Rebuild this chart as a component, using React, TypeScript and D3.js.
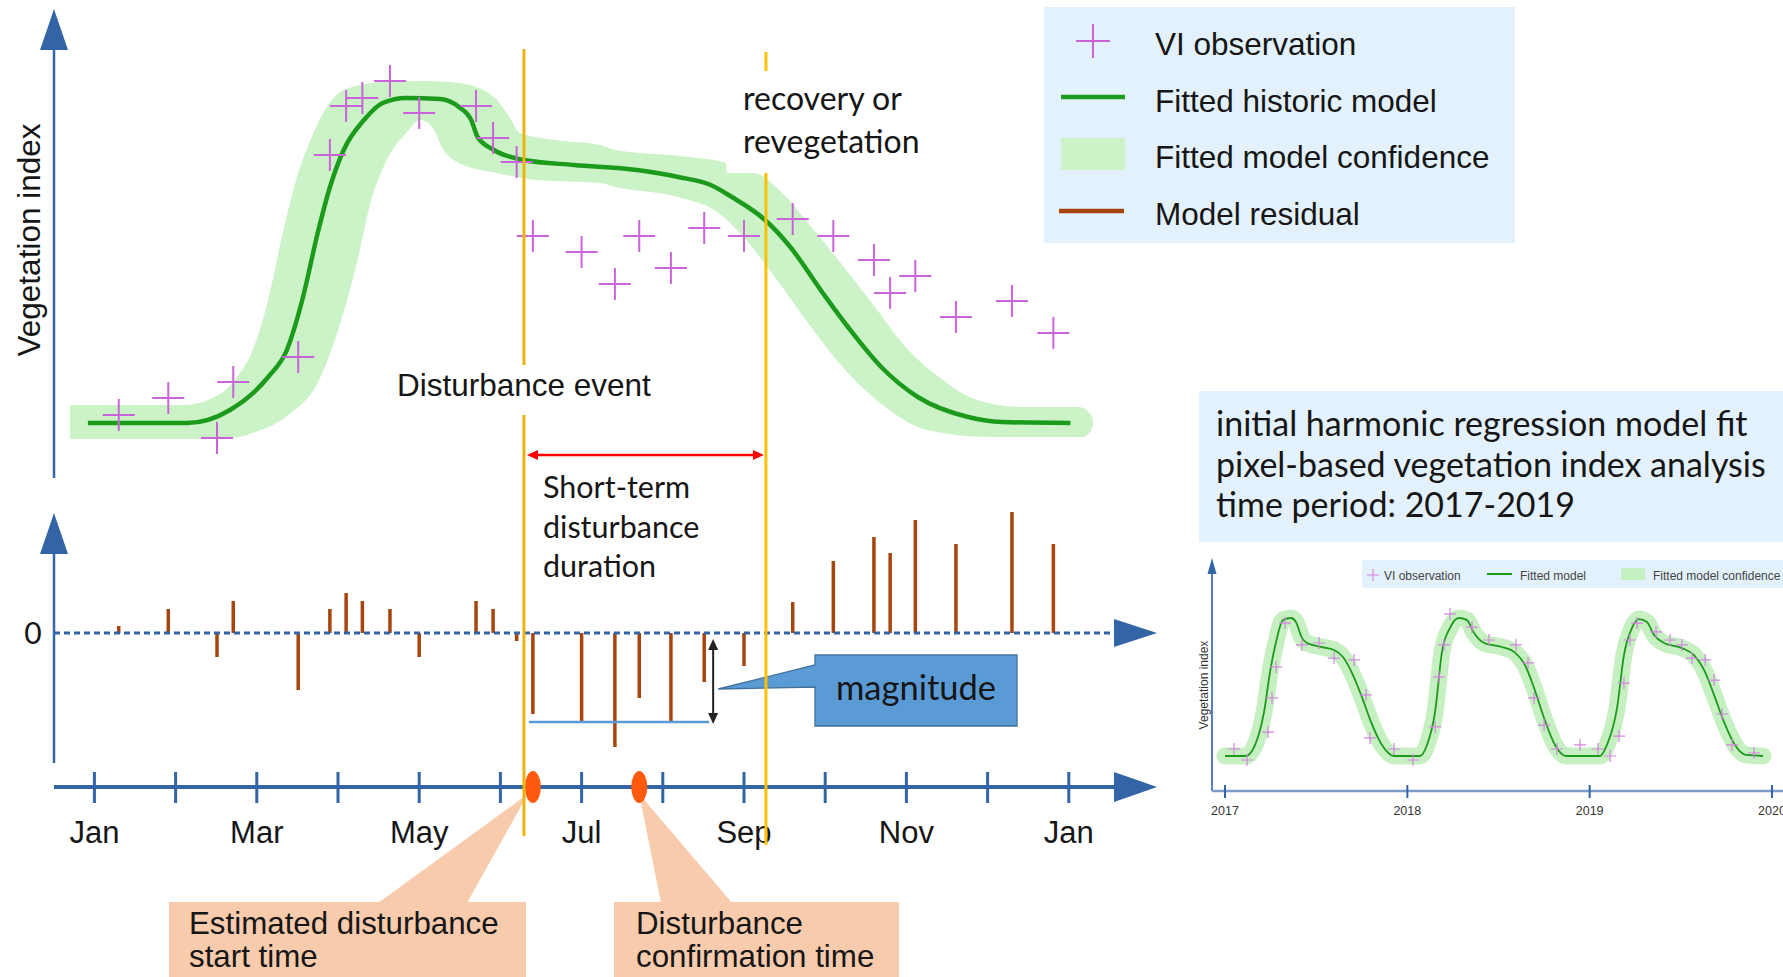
import * as d3 from "d3";

// ---- main panel data (x in months since Jan, 12 = next Jan) ----
const monthTickValues = [0, 1, 2, 3, 4, 5, 6, 7, 8, 9, 10, 11, 12];
const monthLabelValues = [0, 2, 4, 6, 8, 10, 12];
const monthLabels = ["Jan", "Mar", "May", "Jul", "Sep", "Nov", "Jan"];

const obsMonths = [0.3, 0.91, 1.51, 1.71, 2.51, 2.9, 3.1, 3.3, 3.64, 4.0, 4.7, 4.91, 5.2, 5.4, 6.0, 6.41, 6.71, 7.1, 7.51, 8.0, 8.6, 9.1, 9.6, 9.8, 10.11, 10.61, 11.3, 11.81];
const obsValues = [0.166, 0.2, 0.12, 0.232, 0.282, 0.686, 0.784, 0.8, 0.834, 0.77, 0.784, 0.72, 0.672, 0.524, 0.492, 0.428, 0.524, 0.46, 0.54, 0.524, 0.558, 0.524, 0.476, 0.41, 0.444, 0.362, 0.394, 0.33];
const residuals = [0.014, 0.048, -0.048, 0.064, -0.114, 0.048, 0.08, 0.064, 0.048, -0.048, 0.064, 0.048, -0.016, -0.162, -0.178, -0.228, -0.13, -0.178, -0.098, -0.066, 0.062, 0.144, 0.192, 0.16, 0.226, 0.178, 0.242, 0.178];

const fitMonths = [-0.08, 1.14, 1.67, 2.14, 2.37, 2.56, 2.75, 2.89, 3.07, 3.32, 3.55, 3.84, 4.26, 4.49, 4.64, 4.72, 4.92, 5.29, 5.91, 6.68, 7.19, 7.59, 7.85, 8.26, 8.57, 8.97, 9.28, 9.69, 10.14, 10.76, 11.17, 12.02];
const fitValues = [0.15, 0.15, 0.176, 0.242, 0.296, 0.396, 0.53, 0.616, 0.696, 0.756, 0.79, 0.8, 0.798, 0.782, 0.756, 0.722, 0.696, 0.676, 0.666, 0.656, 0.642, 0.626, 0.602, 0.556, 0.502, 0.41, 0.342, 0.262, 0.202, 0.162, 0.152, 0.15];

const bandUpperMonths = [-0.3, 1.1, 1.48, 1.76, 1.95, 2.14, 2.32, 2.51, 2.66, 2.84, 3.07, 3.55, 4.02, 4.49, 4.92, 5.11, 5.24, 5.67, 6.23, 6.42, 7.33, 7.78, 7.79, 8.11, 8.47, 8.83, 9.23, 9.64, 9.99, 10.4, 10.87, 11.42, 12.14];
const bandUpperValues = [0.186, 0.186, 0.202, 0.242, 0.296, 0.396, 0.53, 0.65, 0.716, 0.776, 0.816, 0.832, 0.834, 0.83, 0.802, 0.762, 0.73, 0.716, 0.706, 0.696, 0.682, 0.67, 0.65, 0.65, 0.61, 0.542, 0.462, 0.376, 0.302, 0.242, 0.196, 0.182, 0.182];
const bandLowerMonths = [-0.3, 1.57, 1.95, 2.42, 2.75, 2.99, 3.22, 3.41, 3.6, 3.84, 4.02, 4.16, 4.3, 4.49, 4.96, 5.44, 6.23, 6.42, 7.19, 7.69, 7.95, 8.47, 8.88, 9.28, 9.74, 10.25, 11.02, 11.78, 12.19];
const bandLowerValues = [0.118, 0.118, 0.13, 0.17, 0.23, 0.33, 0.462, 0.596, 0.676, 0.73, 0.756, 0.742, 0.696, 0.67, 0.65, 0.636, 0.63, 0.622, 0.602, 0.57, 0.53, 0.422, 0.33, 0.25, 0.182, 0.136, 0.122, 0.122, 0.122];

const disturbanceMonth = 5.29;
const recoveryMonth = 8.27;
const startObsIndex = 13;
const confirmObsIndex = 16;
const magnitude = -0.178;
const magnitudeMonth = 7.62;

// ---- inset (2017-2019) data ----
const insetYearTicks = [2017, 2018, 2019, 2020];
const insetFitYears = [2017.0, 2017.115, 2017.165, 2017.214, 2017.247, 2017.28, 2017.318, 2017.362, 2017.389, 2017.422, 2017.45, 2017.532, 2017.598, 2017.647, 2017.697, 2017.751, 2017.801, 2017.861, 2017.927, 2018.069, 2018.108, 2018.152, 2018.19, 2018.234, 2018.283, 2018.327, 2018.366, 2018.421, 2018.519, 2018.585, 2018.645, 2018.695, 2018.75, 2018.81, 2018.87, 2019.057, 2019.095, 2019.15, 2019.188, 2019.232, 2019.271, 2019.314, 2019.353, 2019.408, 2019.506, 2019.572, 2019.633, 2019.682, 2019.737, 2019.797, 2019.857, 2019.951];
const insetFitValues = [0.151, 0.151, 0.203, 0.358, 0.547, 0.689, 0.792, 0.802, 0.783, 0.708, 0.684, 0.665, 0.651, 0.618, 0.542, 0.429, 0.311, 0.203, 0.151, 0.151, 0.203, 0.358, 0.642, 0.755, 0.802, 0.792, 0.731, 0.684, 0.665, 0.642, 0.58, 0.472, 0.33, 0.203, 0.151, 0.151, 0.203, 0.377, 0.627, 0.755, 0.797, 0.783, 0.722, 0.684, 0.66, 0.627, 0.547, 0.439, 0.311, 0.203, 0.156, 0.151];
const insetObsYears = [2017.049, 2017.121, 2017.236, 2017.258, 2017.28, 2017.329, 2017.422, 2017.516, 2017.598, 2017.708, 2017.773, 2017.795, 2017.927, 2018.031, 2018.152, 2018.174, 2018.201, 2018.234, 2018.355, 2018.448, 2018.596, 2018.662, 2018.695, 2018.75, 2018.821, 2018.947, 2019.046, 2019.112, 2019.161, 2019.188, 2019.221, 2019.26, 2019.364, 2019.441, 2019.506, 2019.561, 2019.633, 2019.682, 2019.726, 2019.781, 2019.901];
const insetObsValues = [0.184, 0.132, 0.264, 0.425, 0.571, 0.778, 0.675, 0.684, 0.613, 0.604, 0.439, 0.236, 0.184, 0.132, 0.288, 0.524, 0.675, 0.821, 0.759, 0.698, 0.675, 0.59, 0.425, 0.297, 0.184, 0.203, 0.184, 0.151, 0.245, 0.495, 0.698, 0.778, 0.736, 0.698, 0.675, 0.613, 0.604, 0.509, 0.349, 0.203, 0.165];

const ARIAL = "'Liberation Sans', Arial, sans-serif";
const CALIBRI = "Lato, 'Open Sans', sans-serif";
const AXIS = "#3364A6";
const CROSS = "#C964D9";
const GREEN = "#1C9A1C";
const BAND = "#CBF3C7";
const BROWN = "#A8450E";
const PEACH = "#F8CBAD";
const PALEBLUE = "#E3F1FC";
const TXT = "#161616";

const cross = (cx: number, cy: number, r: number) =>
  `M${cx - r},${cy}H${cx + r}M${cx},${cy - r}V${cy + r}`;

export default function App() {
  const x = d3.scaleLinear().domain([0, 12]).range([94.4, 1068.8]);
  const y = d3.scaleLinear().domain([0, 1]).range([498, -2]);
  const yr = d3.scaleLinear().domain([-0.3, 0.3]).range([783, 483]);
  const ix = d3.scaleLinear().domain([2017, 2020]).range([1225, 1772]);
  const iy = d3.scaleLinear().domain([0, 1]).range([788, 576]);

  const line = d3
    .line<[number, number]>()
    .x((d) => x(d[0]))
    .y((d) => y(d[1]))
    .curve(d3.curveMonotoneX);

  const fitPts = fitMonths.map((m, i) => [m, fitValues[i]] as [number, number]);
  const upPts = bandUpperMonths.map((m, i) => [m, bandUpperValues[i]] as [number, number]);
  const loPts = bandLowerMonths.map((m, i) => [m, bandLowerValues[i]] as [number, number]);
  const upPath = line(upPts)!;
  const loPath = line(loPts.slice().reverse())!;
  const loStart = loPts[loPts.length - 1];
  const bandPath =
    upPath +
    `A16,16 0 0 1 ${x(loStart[0])},${y(loStart[1])}` +
    loPath.replace(/^M/, "L") +
    "Z";

  const insetLine = d3
    .line<[number, number]>()
    .x((d) => ix(d[0]))
    .y((d) => iy(d[1]))
    .curve(d3.curveMonotoneX);
  const insetPath = insetLine(insetFitYears.map((t, i) => [t, insetFitValues[i]] as [number, number]))!;

  const zero = yr(0);
  const axisY = 787;
  const axisLeft = 54;
  const axisRight = 1114;
  const xd = x(disturbanceMonth);
  const xrcv = x(recoveryMonth);
  const xm = x(magnitudeMonth);
  const ym = yr(magnitude);

  return (
    <svg
      width={1783}
      height={977}
      style={{ position: "absolute", left: 0, top: 0, background: "#fff" }}
    >
      {/* confidence band + fitted model */}
      <path d={bandPath} fill={BAND} />
      <path d={line(fitPts)!} fill="none" stroke={GREEN} strokeWidth={4.5} />

      {/* VI observations */}
      <g stroke={CROSS} strokeWidth={2} fill="none">
        {obsMonths.map((m, i) => (
          <path key={i} d={cross(x(m), y(obsValues[i]), 16)} />
        ))}
      </g>

      {/* residual bars */}
      <g stroke={BROWN} strokeWidth={3.5}>
        {obsMonths.map((m, i) => (
          <line key={i} x1={x(m)} x2={x(m)} y1={zero} y2={yr(residuals[i])} />
        ))}
      </g>

      {/* y axes */}
      <g fill={AXIS} stroke={AXIS}>
        <line x1={axisLeft} x2={axisLeft} y1={478} y2={46} strokeWidth={2.5} />
        <polygon points={`${axisLeft},9 ${axisLeft - 14},50 ${axisLeft + 14},50`} stroke="none" />
        <line x1={axisLeft} x2={axisLeft} y1={763} y2={550} strokeWidth={2.5} />
        <polygon points={`${axisLeft},513 ${axisLeft - 14},554 ${axisLeft + 14},554`} stroke="none" />
      </g>
      <text
        transform="translate(40,240) rotate(-90)"
        textAnchor="middle"
        fontFamily={ARIAL}
        fontSize={31.5}
        fill={TXT}
      >
        Vegetation index
      </text>

      {/* zero line */}
      <line x1={axisLeft} x2={axisRight} y1={zero} y2={zero} stroke={AXIS} strokeWidth={3} strokeDasharray="6 4" />
      <polygon points={`1157,${zero} ${axisRight},${zero - 14} ${axisRight},${zero + 14}`} fill={AXIS} />
      <text x={33} y={644} textAnchor="middle" fontFamily={CALIBRI} fontSize={30} fill={TXT}>
        0
      </text>

      {/* bottom callouts */}
      <g fill={PEACH}>
        <rect x={169} y={902} width={357} height={90} />
        <polygon points={`378,903 467,903 ${x(obsMonths[startObsIndex]) - 5},794`} />
        <rect x={614} y={902} width={285} height={90} />
        <polygon points={`661,903 732,903 ${x(obsMonths[confirmObsIndex])},794`} />
      </g>
      <g fontFamily={ARIAL} fontSize={31.3} fill={TXT}>
        <text x={189} y={934}>Estimated disturbance</text>
        <text x={189} y={967}>start time</text>
        <text x={636} y={934}>Disturbance</text>
        <text x={636} y={967}>confirmation time</text>
      </g>

      {/* time axis */}
      <line x1={axisLeft} x2={axisRight} y1={axisY} y2={axisY} stroke={AXIS} strokeWidth={4} />
      <polygon points={`1157,${axisY} ${axisRight},${axisY - 15} ${axisRight},${axisY + 15}`} fill={AXIS} />
      <g stroke={AXIS} strokeWidth={3}>
        {monthTickValues.map((m) => (
          <line key={m} x1={x(m)} x2={x(m)} y1={772} y2={803} />
        ))}
      </g>
      <g fontFamily={ARIAL} fontSize={31} fill={TXT} textAnchor="middle">
        {monthLabelValues.map((m, i) => (
          <text key={i} x={x(m)} y={843}>
            {monthLabels[i]}
          </text>
        ))}
      </g>
      <g fill="#FF5A0E">
        <ellipse cx={x(obsMonths[startObsIndex])} cy={axisY} rx={8} ry={16} />
        <ellipse cx={x(obsMonths[confirmObsIndex])} cy={axisY} rx={8} ry={16} />
      </g>

      {/* magnitude */}
      <line x1={x(obsMonths[startObsIndex]) - 4} x2={xm - 4} y1={ym} y2={ym} stroke="#5B9BD5" strokeWidth={2.5} />
      <line x1={xm} x2={xm} y1={zero + 14} y2={ym - 8} stroke="#222" strokeWidth={2} />
      <polygon points={`${xm},${zero + 6} ${xm - 5},${zero + 17} ${xm + 5},${zero + 17}`} fill="#222" />
      <polygon points={`${xm},${ym + 2} ${xm - 5},${ym - 9} ${xm + 5},${ym - 9}`} fill="#222" />
      <path
        d={`M815,655H1017V726H815V687L${xm + 5},689L815,665Z`}
        fill="#5B9BD5"
        stroke="#41719C"
        strokeWidth={1.3}
      />
      <text x={916} y={700} textAnchor="middle" fontFamily={CALIBRI} fontSize={34.5} fill={TXT}>
        magnitude
      </text>

      {/* disturbance / recovery markers */}
      <g strokeWidth={3}>
        <line x1={xd} x2={xd} y1={49} y2={365} stroke="#EDB40F" />
        <line x1={xd} x2={xd} y1={415} y2={836} stroke="#EDB40F" />
        <line x1={xrcv} x2={xrcv} y1={52} y2={71} stroke="#FFC000" />
        <line x1={xrcv} x2={xrcv} y1={173} y2={845} stroke="#FFC000" />
      </g>
      <text x={xd} y={396} textAnchor="middle" fontFamily={ARIAL} fontSize={31.5} fill={TXT}>
        Disturbance event
      </text>
      <g fontFamily={CALIBRI} fontSize={32} fill={TXT}>
        <text x={743} y={110}>recovery or</text>
        <text x={743} y={153}>revegetation</text>
      </g>
      <g fontFamily={CALIBRI} fontSize={30.5} fill={TXT}>
        <text x={543} y={498}>Short-term</text>
        <text x={543} y={538}>disturbance</text>
        <text x={543} y={577}>duration</text>
      </g>
      <line x1={xd + 12} x2={xrcv - 12} y1={455} y2={455} stroke="#FF0000" strokeWidth={2.5} />
      <polygon points={`${xd + 3},455 ${xd + 14},450 ${xd + 14},460`} fill="#FF0000" />
      <polygon points={`${xrcv - 2},455 ${xrcv - 13},450 ${xrcv - 13},460`} fill="#FF0000" />

      {/* legend */}
      <rect x={1044} y={7} width={471} height={236} fill={PALEBLUE} />
      <path d={cross(1093, 41, 17)} stroke={CROSS} strokeWidth={2} />
      <line x1={1061} x2={1125} y1={97} y2={97} stroke={GREEN} strokeWidth={4.5} />
      <rect x={1061} y={138} width={64} height={32} fill={BAND} />
      <line x1={1059} x2={1124} y1={211} y2={211} stroke={BROWN} strokeWidth={4.5} />
      <g fontFamily={ARIAL} fontSize={31.5} fill={TXT}>
        <text x={1155} y={55}>VI observation</text>
        <text x={1155} y={112}>Fitted historic model</text>
        <text x={1155} y={168}>Fitted model confidence</text>
        <text x={1155} y={225}>Model residual</text>
      </g>

      {/* right description box */}
      <rect x={1199} y={391} width={584} height={151} fill={PALEBLUE} />
      <g fontFamily={CALIBRI} fontSize={34} fill={TXT}>
        <text x={1216} y={436}>initial harmonic regression model fit</text>
        <text x={1216} y={477}>pixel-based vegetation index analysis</text>
        <text x={1216} y={517}>time period: 2017-2019</text>
      </g>

      {/* inset chart */}
      <path d={insetPath} fill="none" stroke="#C6F0C1" strokeWidth={17} strokeLinecap="round" strokeLinejoin="round" />
      <path d={insetPath} fill="none" stroke={GREEN} strokeWidth={1.8} />
      <g stroke="#D486E0" strokeWidth={1.2} fill="none">
        {insetObsYears.map((t, i) => (
          <path key={i} d={cross(ix(t), iy(insetObsValues[i]), 6)} />
        ))}
      </g>
      <line x1={1212} x2={1212} y1={791} y2={572} stroke="#5B7FB8" strokeWidth={2} />
      <polygon points="1212,558 1207.5,574 1216.5,574" fill="#3364A6" />
      <line x1={1212} x2={1783} y1={791} y2={791} stroke="#7F9CC8" strokeWidth={2.5} />
      <g stroke="#3364A6" strokeWidth={2}>
        {insetYearTicks.map((t) => (
          <line key={t} x1={ix(t)} x2={ix(t)} y1={785} y2={798} />
        ))}
      </g>
      <g fontFamily={ARIAL} fontSize={12.5} fill="#333" textAnchor="middle">
        {insetYearTicks.map((t) => (
          <text key={t} x={ix(t)} y={815}>
            {t}
          </text>
        ))}
      </g>
      <text
        transform="translate(1208,685) rotate(-90)"
        textAnchor="middle"
        fontFamily={ARIAL}
        fontSize={12}
        fill="#333"
      >
        Vegetation index
      </text>
      <rect x={1362} y={560} width={421} height={28} fill={PALEBLUE} />
      <path d={cross(1373, 575, 6)} stroke="#D486E0" strokeWidth={1.2} />
      <line x1={1487} x2={1512} y1={574} y2={574} stroke={GREEN} strokeWidth={2} />
      <rect x={1621} y={568} width={24} height={12} fill="#C6F0C1" />
      <g fontFamily={ARIAL} fontSize={12} fill="#444">
        <text x={1384} y={580}>VI observation</text>
        <text x={1520} y={580}>Fitted model</text>
        <text x={1653} y={580}>Fitted model confidence</text>
      </g>
    </svg>
  );
}
